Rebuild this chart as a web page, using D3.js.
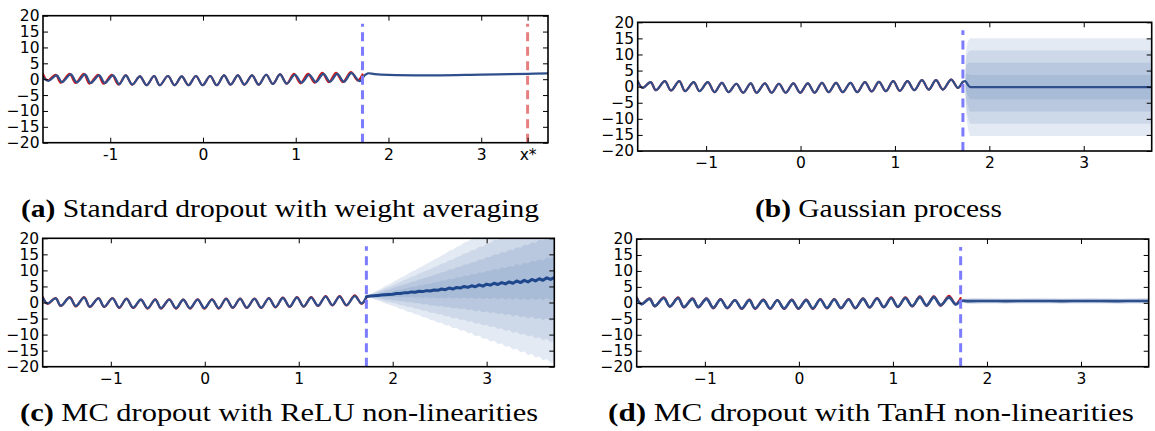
<!DOCTYPE html>
<html><head><meta charset="utf-8">
<script src="https://cdn.jsdelivr.net/npm/d3@7"></script>
<style>body{margin:0;background:#fff}svg{display:block}</style>
</head><body>
<script>
// ---------------- DATA ----------------
const yTicks = [-20, -15, -10, -5, 0, 5, 10, 15, 20];
const xTicks = [-1, 0, 1, 2, 3];
const xTickLabels = ["\u22121", "0", "1", "2", "3"];
const xTicksA = [-1, 0, 1, 2, 3, 3.5];
const xTickLabelsA = ["-1", "0", "1", "2", "3", "x*"];
const xDomain = [-1.725, 3.72];
const yDomain = [-20, 20];
const trainEnd = 1.72;
const xStar = 3.5;
const bandLevels = [4, 3, 2, 1];

// observed (ground truth) series, training region
const truthX = [-1.725,-1.675,-1.587,-1.533,-1.437,-1.373,-1.284,-1.224,-1.131,-1.071,-0.982,-0.911,-0.833,-0.762,-0.680,-0.608,-0.527,-0.466,-0.378,-0.306,-0.229,-0.157,-0.076,-0.004,0.077,0.149,0.227,0.298,0.376,0.447,0.529,0.600,0.682,0.753,0.831,0.903,0.981,1.052,1.133,1.205,1.286,1.358,1.435,1.508,1.596,1.668,1.720];
const truthY = [1.7,-0.4,1.4,-1.1,1.7,-1.2,1.7,-1.4,1.4,-1.4,1.4,-1.7,1.2,-1.7,0.9,-1.9,1.0,-1.9,1.0,-1.9,0.9,-1.9,1.0,-1.9,1.0,-1.9,1.2,-1.7,1.2,-1.7,1.2,-1.7,1.4,-1.5,1.5,-1.4,1.7,-1.3,1.7,-1.1,2.0,-0.9,2.0,-0.9,2.2,-0.4,1.5];

// (a) standard dropout prediction
const predAX = [-1.725,-1.665,-1.577,-1.521,-1.425,-1.361,-1.272,-1.212,-1.119,-1.059,-0.970,-0.903,-0.833,-0.762,-0.680,-0.608,-0.527,-0.466,-0.378,-0.306,-0.229,-0.157,-0.076,-0.004,0.077,0.149,0.227,0.298,0.376,0.447,0.529,0.600,0.682,0.753,0.831,0.903,0.991,1.064,1.145,1.217,1.298,1.370,1.447,1.520,1.600,1.690,1.745,1.78,1.85,2.0,2.5,3.0,3.5,3.72];
const predAY = [0.6,-0.5,1.2,-0.9,1.5,-1.0,1.5,-1.2,1.2,-1.2,1.2,-1.6,1.2,-1.7,0.9,-1.9,1.0,-1.9,1.0,-1.9,0.9,-1.9,1.0,-1.9,1.0,-1.9,1.2,-1.7,1.2,-1.7,1.2,-1.7,1.4,-1.5,1.5,-1.4,1.4,-1.1,1.4,-0.9,1.7,-0.8,1.7,-0.8,1.9,-0.6,1.3,1.85,1.6,1.35,1.2,1.45,1.7,1.85];

// (b) Gaussian process extrapolation
const gpX = [1.72, 1.745, 1.75, 1.76, 1.775, 1.79, 1.80, 3.72];
const gpMean = [1.5, 1.7, 1.6, 1.2, 0.5, 0.0, -0.15, -0.15];
const gpSd = [0, 0, 1.8, 2.8, 3.4, 3.7, 3.8, 3.8];

// (c) MC dropout ReLU
const predCY = [1.55,-0.3,1.3,-1.0,1.55,-1.1,1.55,-1.3,1.3,-1.3,1.3,-1.55,1.1,-1.6,0.85,-1.75,0.9,-1.75,0.9,-1.75,0.85,-1.75,0.9,-1.75,0.9,-1.75,1.1,-1.6,1.1,-1.6,1.1,-1.6,1.3,-1.4,1.4,-1.3,1.55,-1.2,1.55,-1.0,1.85,-0.8,1.85,-0.8,2.0,-0.3,1.8];
const reluX = [1.72,1.76,1.80,1.84,1.88,1.92,1.96,2.00,2.04,2.08,2.12,2.16,2.20,2.24,2.28,2.32,2.36,2.40,2.44,2.48,2.52,2.56,2.60,2.64,2.68,2.72,2.76,2.80,2.84,2.88,2.92,2.96,3.00,3.04,3.08,3.12,3.16,3.20,3.24,3.28,3.32,3.36,3.40,3.44,3.48,3.52,3.56,3.60,3.64,3.68,3.72];
const reluMean = [1.8,2.0,2.1,2.2,2.3,2.4,2.5,2.6,2.8,2.8,3.0,3.0,3.3,3.2,3.5,3.4,3.7,3.6,3.9,3.8,4.2,4.0,4.5,4.2,4.7,4.5,5.0,4.7,5.2,4.9,5.5,5.1,5.7,5.4,6.0,5.6,6.2,5.8,6.4,6.0,6.7,6.2,6.9,6.4,7.2,6.7,7.4,6.9,7.7,7.2,7.8];
const reluSd = [0.0,0.15,0.28,0.40,0.52,0.68,0.78,0.93,1.05,1.20,1.30,1.47,1.58,1.72,1.84,2.00,2.10,2.26,2.37,2.52,2.62,2.79,2.90,3.05,3.15,3.32,3.42,3.57,3.68,3.85,3.95,4.10,4.22,4.38,4.48,4.63,4.75,4.90,5.00,5.17,5.27,5.43,5.54,5.70,5.80,5.96,6.06,6.22,6.32,6.50,6.60];

// (d) MC dropout TanH
const predDY = [1.5,-0.4,1.25,-1.0,1.5,-1.1,1.5,-1.3,1.25,-1.3,1.25,-1.55,1.05,-1.6,0.8,-1.75,0.85,-1.75,0.85,-1.75,0.8,-1.75,0.85,-1.75,0.85,-1.75,1.05,-1.6,1.05,-1.6,1.05,-1.6,1.25,-1.4,1.35,-1.3,1.5,-1.2,1.5,-1.0,1.8,-0.8,1.8,-0.7,1.7,-0.5,0.6];
const trainSdD = [0.12,0.15,0.12,0.15,0.12,0.15,0.15,0.18,0.18,0.2,0.2,0.18,0.15,0.15,0.12,0.12,0.1,0.1,0.1,0.1,0.1,0.1,0.1,0.1,0.1,0.1,0.1,0.1,0.1,0.1,0.1,0.1,0.12,0.12,0.12,0.12,0.15,0.15,0.15,0.15,0.18,0.18,0.2,0.2,0.18,0.15,0.15];
const tanhX = [1.8, 2.0, 2.2, 2.4, 2.6, 2.8, 3.0, 3.2, 3.4, 3.6, 3.72];
const tanhMean = [0.55, 0.6, 0.55, 0.6, 0.6, 0.55, 0.6, 0.6, 0.55, 0.6, 0.6];
const tanhSd = [0.22, 0.22, 0.22, 0.22, 0.22, 0.22, 0.22, 0.22, 0.22, 0.22, 0.22];

const captions = [
  {tag: "(a)", text: " Standard dropout with weight averaging"},
  {tag: "(b)", text: " Gaussian process"},
  {tag: "(c)", text: " MC dropout with ReLU non-linearities"},
  {tag: "(d)", text: " MC dropout with TanH non-linearities"}
];

// ---------------- STYLE ----------------
const BLUE = "#2e4f8c";
const BLUE_DARK = "#1e478c";
const RED = "#cc1a1a";
const BAND = "#4a72b0";
const DASH_BLUE = "#7c7cff";
const DASH_RED = "#e68080";
const smooth = d3.curveCatmullRom.alpha(0.5);

const svg = d3.select("body").append("svg").attr("width", 1155).attr("height", 431);

function makePanel(id, box, ticks, tickLabels) {
  const x = d3.scaleLinear().domain(xDomain).range([box.l, box.r]);
  const y = d3.scaleLinear().domain(yDomain).range([box.b, box.t]);
  const g = svg.append("g");
  svg.append("clipPath").attr("id", "clip" + id)
    .append("rect").attr("x", box.l).attr("y", box.t).attr("width", box.r - box.l).attr("height", box.b - box.t);
  const plot = g.append("g").attr("clip-path", `url(#clip${id})`);
  return {x, y, g, plot, box, ticks, tickLabels};
}

function finishPanel(p) {
  const {x, y, g, box, ticks, tickLabels} = p;
  const font = (sel) => sel.attr("font-family", "DejaVu Sans, sans-serif").attr("font-size", 15.5);
  const bottom = g.append("g").attr("transform", `translate(0,${box.b})`)
    .call(d3.axisBottom(x).tickValues(ticks).tickFormat((d, i) => tickLabels[i]).tickSizeInner(-5).tickSizeOuter(0).tickPadding(6));
  const top = g.append("g").attr("transform", `translate(0,${box.t})`)
    .call(d3.axisTop(x).tickValues(ticks).tickFormat("").tickSizeInner(-5).tickSizeOuter(0));
  const left = g.append("g").attr("transform", `translate(${box.l},0)`)
    .call(d3.axisLeft(y).tickValues(yTicks).tickFormat(d => d < 0 ? "\u2212" + Math.abs(d) : String(d)).tickSizeInner(-5).tickSizeOuter(0).tickPadding(3.5));
  const right = g.append("g").attr("transform", `translate(${box.r},0)`)
    .call(d3.axisRight(y).tickValues(yTicks).tickFormat("").tickSizeInner(-5).tickSizeOuter(0));
  [bottom, top, left, right].forEach(a => {
    font(a);
    a.select(".domain").remove();
    a.selectAll("line").attr("stroke", "#000").attr("stroke-width", 1);
    a.selectAll("text").attr("fill", "#000");
  });
  g.append("rect").attr("x", box.l).attr("y", box.t).attr("width", box.r - box.l).attr("height", box.b - box.t)
    .attr("fill", "none").attr("stroke", "#000").attr("stroke-width", 1.6);
}

function drawLine(p, xs, ys, color, width, curve) {
  const pts = xs.map((v, i) => [v, ys[i]]);
  p.plot.append("path").datum(pts)
    .attr("d", d3.line().curve(curve || smooth).x(d => p.x(d[0])).y(d => p.y(d[1])))
    .attr("fill", "none").attr("stroke", color).attr("stroke-width", width)
    .attr("stroke-linejoin", "round").attr("stroke-linecap", "round");
}

function drawBands(p, xs, mean, sd, curve) {
  const pts = xs.map((v, i) => [v, mean[i], sd[i]]);
  bandLevels.forEach(k => {
    p.plot.append("path").datum(pts)
      .attr("d", d3.area().curve(curve || d3.curveLinear)
        .x(d => p.x(d[0])).y0(d => p.y(d[1] - k * d[2])).y1(d => p.y(d[1] + k * d[2])))
      .attr("fill", BAND).attr("fill-opacity", 0.15);
  });
}

function drawDashed(p, xv, color) {
  p.plot.append("line")
    .attr("x1", p.x(xv)).attr("x2", p.x(xv))
    .attr("y1", p.y(-20)).attr("y2", p.y(17.5))
    .attr("stroke", color).attr("stroke-width", 3).attr("stroke-dasharray", "9,5.5");
}

// ---------- panel (a)
const pa = makePanel("a", {l: 43, r: 548, t: 15.7, b: 142.7}, xTicksA, xTickLabelsA);
drawLine(pa, truthX, truthY, RED, 2.2);
drawLine(pa, predAX, predAY, BLUE, 2.2);
drawDashed(pa, trainEnd, DASH_BLUE);
drawDashed(pa, xStar, DASH_RED);
finishPanel(pa);

// ---------- panel (b)
const pb = makePanel("b", {l: 637.7, r: 1151.7, t: 22.3, b: 151}, xTicks, xTickLabels);
drawBands(pb, gpX, gpMean, gpSd, d3.curveMonotoneX);
drawLine(pb, truthX, truthY, RED, 2.2);
drawLine(pb, truthX.concat(gpX.slice(1)), truthY.concat(gpMean.slice(1)), BLUE, 2.2, d3.curveMonotoneX);
drawDashed(pb, trainEnd, DASH_BLUE);
finishPanel(pb);

// ---------- panel (c)
const pc = makePanel("c", {l: 42.7, r: 554.3, t: 238.3, b: 366.7}, xTicks, xTickLabels);
drawBands(pc, reluX, reluMean, reluSd);
drawLine(pc, truthX, truthY, RED, 2.2);
drawLine(pc, truthX, predCY, BLUE, 2.3);
drawLine(pc, reluX, reluMean, BLUE_DARK, 3, d3.curveLinear);
drawDashed(pc, trainEnd, DASH_BLUE);
finishPanel(pc);

// ---------- panel (d)
const pd = makePanel("d", {l: 636.7, r: 1148.7, t: 239, b: 366.7}, xTicks, xTickLabels);
const dX = truthX.concat(tanhX), dY = predDY.concat(tanhMean), dSd = trainSdD.concat(tanhSd);
drawBands(pd, dX, dY, dSd, smooth);
drawLine(pd, truthX, truthY, RED, 2.2);
drawLine(pd, dX, dY, BLUE, 2.6);
drawDashed(pd, trainEnd, DASH_BLUE);
finishPanel(pd);

// ---------- captions
const capPos = [
  {x: 21, y: 217, w: 518},
  {x: 755, y: 217, w: 247},
  {x: 20, y: 421, w: 518},
  {x: 608, y: 421, w: 526}
];
captions.forEach((c, i) => {
  const t = svg.append("text").attr("x", capPos[i].x).attr("y", capPos[i].y)
    .attr("font-family", "'Liberation Serif', serif").attr("font-size", 25).attr("fill", "#000")
    .attr("textLength", capPos[i].w).attr("lengthAdjust", "spacingAndGlyphs");
  t.append("tspan").attr("font-weight", "bold").text(c.tag);
  t.append("tspan").text(c.text);
});
</script>
</body></html>
